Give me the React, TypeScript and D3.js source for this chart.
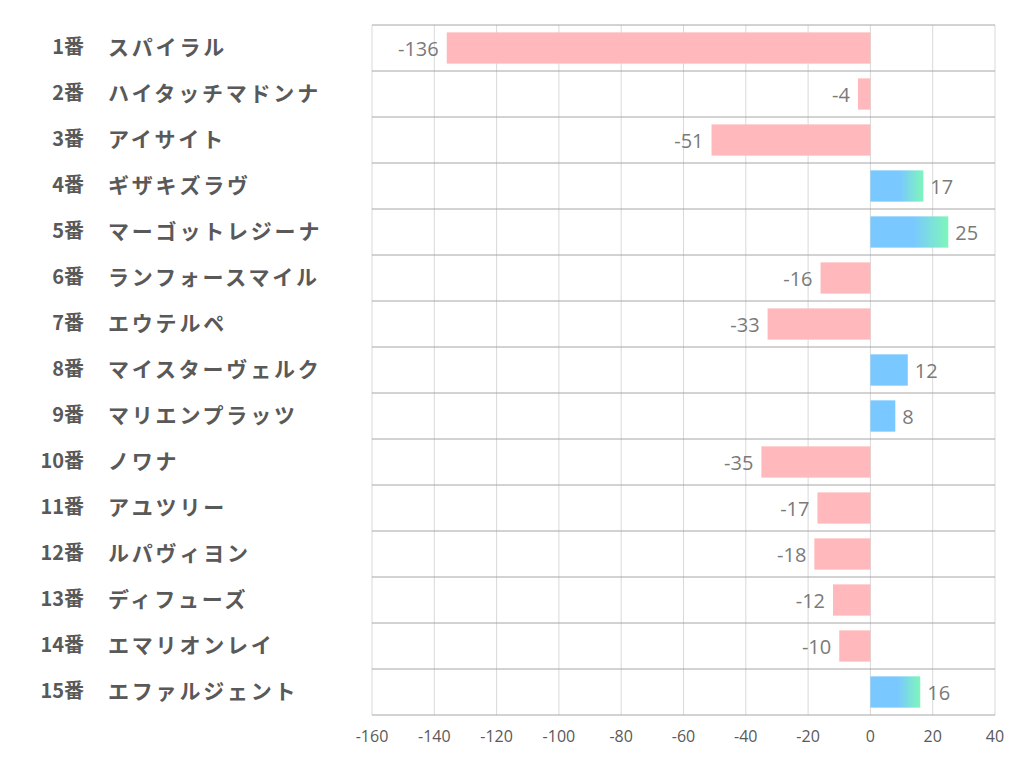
import React from "react";
import * as d3 from "d3";

const numbers = ["1番","2番","3番","4番","5番","6番","7番","8番","9番","10番","11番","12番","13番","14番","15番"];
const names = ["スパイラル","ハイタッチマドンナ","アイサイト","ギザキズラヴ","マーゴットレジーナ","ランフォースマイル","エウテルペ","マイスターヴェルク","マリエンプラッツ","ノワナ","アユツリー","ルパヴィヨン","ディフューズ","エマリオンレイ","エファルジェント"];
const values = [-136,-4,-51,17,25,-16,-33,12,8,-35,-17,-18,-12,-10,16];
const ticks = [-160,-140,-120,-100,-80,-60,-40,-20,0,20,40];

const W = 1022, H = 782;
const left = 372, right = 995, top = 25, bottom = 715;

export default function App() {
  const x = d3.scaleLinear().domain([-160, 40]).range([left, right]);
  const y = d3.scaleBand<number>().domain(d3.range(values.length)).range([top, bottom]).paddingInner(0.32).paddingOuter(0.16);
  const rowH = (bottom - top) / values.length;
  const jp = "'Noto Sans CJK JP', sans-serif";
  return (
    <svg width={W} height={H} style={{ position: "absolute", left: 0, top: 0, background: "#fff" }}>
      <defs>
        <linearGradient id="grad" x1="0" x2="1" y1="0" y2="0">
          <stop offset="0" stopColor="#79c8ff" />
          <stop offset="0.55" stopColor="#79c8ff" />
          <stop offset="1" stopColor="#7ef6bb" />
        </linearGradient>
      </defs>
      {ticks.map(t => (
        <line key={"v" + t} x1={x(t)} x2={x(t)} y1={top} y2={bottom} stroke="#d9d9d9" strokeWidth={1} />
      ))}
      {d3.range(values.length + 1).map(i => (
        <line key={"h" + i} x1={left} x2={right} y1={top + i * rowH} y2={top + i * rowH} stroke="#a6a6a6" strokeWidth={1} />
      ))}
      {values.map((v, i) => {
        const x0 = x(Math.min(0, v));
        const w = Math.abs(x(v) - x(0));
        const fill = v < 0 ? "#ffb9bc" : v >= 15 ? "url(#grad)" : "#79c8ff";
        const cy = (y(i) as number) + y.bandwidth() / 2 + 1;
        return (
          <g key={i}>
            <rect x={x0} y={y(i)} width={w} height={y.bandwidth()} fill={fill} />
            <text x={v < 0 ? x(v) - 8 : x(v) + 7} y={cy} dy="0.36em" textAnchor={v < 0 ? "end" : "start"}
              fontFamily="'Open Sans', sans-serif" fontSize={20} fill="#7a7a7a">{v}</text>
            <text x={84} y={top + i * rowH + rowH / 2 - 1} dy="0.36em" textAnchor="end" fontFamily={jp} fontWeight="bold" fontSize={20} fill="#595959">{numbers[i]}</text>
            <text x={108} y={top + i * rowH + rowH / 2 - 1} dy="0.36em" textAnchor="start" fontFamily={jp} fontWeight="bold" fontSize={21} letterSpacing={2.8} fill="#595959">{names[i]}</text>
          </g>
        );
      })}
      {ticks.map(t => (
        <text key={"t" + t} x={x(t)} y={742} textAnchor="middle" fontFamily="'Open Sans', sans-serif" fontSize={16} fill="#595959">{t}</text>
      ))}
    </svg>
  );
}
